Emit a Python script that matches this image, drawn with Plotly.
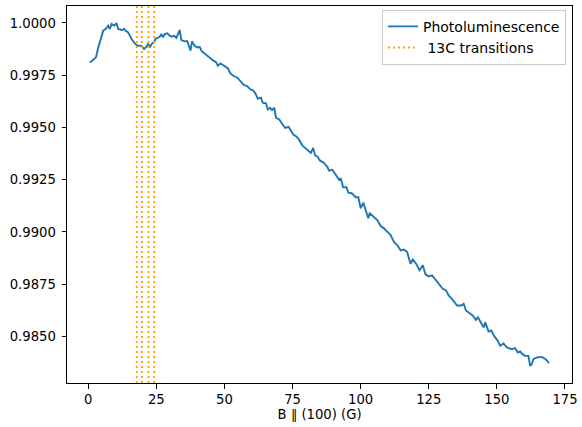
import plotly.graph_objects as go

field_g = [0.62, 1.83, 2.82, 3.66, 4.54, 5.49, 6.37, 7.32, 7.94, 8.56, 9.51, 10.39, 10.97, 12.22,
           13.17, 13.68, 14.63, 15.88, 17.08, 18.07, 18.91, 19.75, 20.49, 21.36, 21.95, 22.68, 23.41,
           24.14, 24.66, 25.39, 26.23, 26.85, 27.44, 28.06, 29.05, 29.89, 30.73, 31.46, 32.34, 33.55,
           34.17, 35.37, 36.36, 37.57, 38.05, 39.03, 40.02, 40.86, 41.70, 42.69, 43.68, 44.52, 45.73,
           46.97, 47.56, 48.54, 49.39, 50.26, 51.21, 52.20, 53.41, 54.65, 55.86, 57.07, 58.31, 59.52,
           60.36, 61.35, 62.19, 63.43, 64.02, 65.26, 65.85, 66.73, 67.46, 68.30, 68.92, 70.13, 71.33,
           72.32, 73.53, 74.41, 75.25, 76.24, 77.19, 78.65, 80.48, 81.72, 82.57, 83.30, 84.14, 85.02,
           86.59, 87.80, 88.42, 89.63, 90.87, 92.08, 92.70, 93.54, 94.75, 95.48, 96.72, 98.18, 99.14,
           100.01, 100.97, 101.84, 102.80, 103.31, 104.88, 106.09, 107.33, 108.54, 109.75, 110.99,
           112.20, 113.40, 114.65, 115.85, 117.06, 118.30, 119.15, 120.35, 121.60, 122.81, 123.79,
           125.00, 126.21, 127.20, 128.66, 130.12, 131.33, 132.32, 133.78, 135.35, 136.96, 137.80,
           138.64, 139.63, 141.09, 142.30, 143.03, 144.28, 145.12, 145.74, 146.95, 147.94, 149.14,
           150.35, 151.23, 152.43, 153.64, 155.47, 156.72, 157.67, 158.55, 159.39, 160.38, 161.58,
           162.20, 162.79, 163.41, 164.62, 166.45, 167.91, 169.15]

photolum = [0.99811, 0.99822, 0.99835, 0.99883, 0.99918, 0.99963, 0.99971, 0.99987, 0.99971, 0.99995,
            0.99987, 0.99999, 0.99971, 0.99966, 0.99971, 0.99963, 0.99955, 0.99923, 0.99902, 0.99891,
            0.99891, 0.99888, 0.99875, 0.99886, 0.99899, 0.99886, 0.99902, 0.99907, 0.99923, 0.99928,
            0.99934, 0.99947, 0.99931, 0.99947, 0.99950, 0.99939, 0.99934, 0.99939, 0.99928, 0.99966,
            0.99918, 0.99912, 0.99912, 0.99867, 0.99912, 0.99891, 0.99883, 0.99886, 0.99864, 0.99854,
            0.99843, 0.99838, 0.99822, 0.99811, 0.99795, 0.99806, 0.99799, 0.99790, 0.99783, 0.99758,
            0.99746, 0.99739, 0.99722, 0.99703, 0.99698, 0.99682, 0.99679, 0.99663, 0.99638, 0.99642,
            0.99618, 0.99615, 0.99586, 0.99594, 0.99583, 0.99594, 0.99546, 0.99538, 0.99514, 0.99498,
            0.99503, 0.99487, 0.99466, 0.99458, 0.99445, 0.99413, 0.99394, 0.99378, 0.99402, 0.99365,
            0.99361, 0.99342, 0.99330, 0.99310, 0.99293, 0.99297, 0.99273, 0.99249, 0.99257, 0.99214,
            0.99214, 0.99188, 0.99185, 0.99166, 0.99166, 0.99113, 0.99140, 0.99105, 0.99065, 0.99089,
            0.99070, 0.99057, 0.99028, 0.99017, 0.99001, 0.98985, 0.98952, 0.98937, 0.98912, 0.98916,
            0.98904, 0.98848, 0.98868, 0.98848, 0.98816, 0.98840, 0.98797, 0.98787, 0.98792, 0.98776,
            0.98755, 0.98728, 0.98720, 0.98696, 0.98675, 0.98648, 0.98648, 0.98656, 0.98624, 0.98616,
            0.98600, 0.98579, 0.98592, 0.98563, 0.98543, 0.98567, 0.98523, 0.98528, 0.98499, 0.98479,
            0.98455, 0.98466, 0.98447, 0.98439, 0.98444, 0.98423, 0.98428, 0.98415, 0.98407, 0.98407,
            0.98359, 0.98367, 0.98391, 0.98399, 0.98402, 0.98391, 0.98372]

c13_transitions = [17.8, 19.7, 22.1, 24.2]

x_ticks = [0, 25, 50, 75, 100, 125, 150, 175]
y_ticks = [0.9850, 0.9875, 0.9900, 0.9925, 0.9950, 0.9975, 1.0000]

FONT = "DejaVu Sans"
FS = 13.2
LEG_FS = 14

def padded(vals, frac=0.05):
    lo, hi = min(vals), max(vals)
    span = hi - lo
    return [lo - frac * span, hi + frac * span]

fig = go.Figure()
fig.add_trace(go.Scatter(x=field_g, y=photolum, mode="lines", name="Photoluminescence",
                         line=dict(color="#1f77b4", width=1.9)))

for i, xv in enumerate(c13_transitions):
    fig.add_shape(type="line", xref="x", yref="paper", x0=xv, x1=xv, y0=0, y1=1,
                  line=dict(color="#FFA500", width=1.9, dash="2px,3px"),
                  showlegend=(i == 0), name=" 13C transitions", legendgroup="c13", layer="above")

axis_common = dict(showline=True, mirror=True, linecolor="black", linewidth=1,
                   ticks="outside", ticklen=4.5, tickwidth=1, tickcolor="black",
                   showgrid=False, zeroline=False,
                   tickfont=dict(family=FONT, size=FS, color="black"))

fig.update_xaxes(range=padded(field_g), tickvals=x_ticks, ticktext=[str(t) for t in x_ticks],
                 title=dict(text="B ∥ (100) (G)", font=dict(family=FONT, size=FS, color="black"),
                            standoff=3),
                 **axis_common)
fig.update_yaxes(range=padded(photolum), tickvals=y_ticks,
                 ticktext=[f"{t:.4f}" for t in y_ticks], ticklabelstandoff=3, **axis_common)

fig.update_layout(
    width=582, height=427,
    margin=dict(l=67, r=10, t=6, b=44, autoexpand=False),
    plot_bgcolor="white", paper_bgcolor="white",
    font=dict(family=FONT, size=FS, color="black"),
    legend=dict(x=0.988, y=0.99, xanchor="right", yanchor="top",
                bgcolor="rgba(255,255,255,0.8)", bordercolor="#cccccc", borderwidth=1,
                font=dict(family=FONT, size=LEG_FS, color="black"),
                tracegroupgap=0, itemwidth=30),
    showlegend=True,
)

fig.write_html("out.html")
